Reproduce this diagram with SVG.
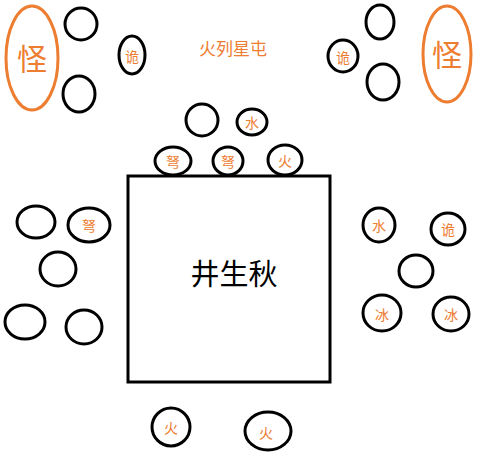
<svg xmlns="http://www.w3.org/2000/svg" width="500" height="462" viewBox="0 0 500 462">
<style>
.c{fill:#fff;stroke:#000;stroke-width:3}
.g{fill:#fff;stroke:#ED7D31;stroke-width:3}
.t{fill:#ED7D31;font-family:"Noto Sans CJK SC",sans-serif;font-size:14px;text-anchor:middle;dominant-baseline:central}
.big{font-size:30px}
.title{font-size:17px}
.m{fill:#000;font-family:"Noto Sans CJK SC",sans-serif;font-size:29px;text-anchor:middle;dominant-baseline:central}
</style>
<rect width="500" height="462" fill="#fff"/>
<g id="connectors"></g>
<g id="table"><rect x="128" y="176" width="202" height="206" fill="#fff" stroke="#000" stroke-width="3"/><text class="m" x="234" y="272">井生秋</text></g>
<g id="title"><text class="t title" x="233" y="47">火列星屯</text></g>
<g id="guai-left"><ellipse class="g" cx="32" cy="58" rx="26" ry="52"/><text class="t big" x="32" y="57">怪</text></g>
<g id="guai-right"><ellipse class="g" cx="447" cy="54" rx="24" ry="48"/><text class="t big" x="447" y="53">怪</text></g>
<g id="n1"><ellipse class="c" cx="81" cy="24" rx="16" ry="16"/></g>
<g id="n2"><ellipse class="c" cx="79" cy="94" rx="16" ry="18"/></g>
<g id="n3"><ellipse class="c" cx="132" cy="55" rx="13" ry="19"/><text class="t" x="132" y="56">诡</text></g>
<g id="n4"><ellipse class="c" cx="380" cy="22" rx="14" ry="17"/></g>
<g id="n5"><ellipse class="c" cx="343" cy="56" rx="15" ry="16"/><text class="t" x="343" y="57">诡</text></g>
<g id="n6"><ellipse class="c" cx="383" cy="82" rx="16" ry="18"/></g>
<g id="n7"><ellipse class="c" cx="202" cy="120" rx="16" ry="16"/></g>
<g id="n8"><ellipse class="c" cx="252" cy="122" rx="15" ry="13"/><text class="t" x="252" y="122">水</text></g>
<g id="n9"><ellipse class="c" cx="173" cy="161" rx="18" ry="14"/><text class="t" x="173" y="161">弩</text></g>
<g id="n10"><ellipse class="c" cx="228" cy="161" rx="15" ry="14"/><text class="t" x="228" y="161">弩</text></g>
<g id="n11"><ellipse class="c" cx="285" cy="160" rx="17" ry="15"/><text class="t" x="285" y="160">火</text></g>
<g id="n12"><ellipse class="c" cx="36" cy="222" rx="19" ry="16"/></g>
<g id="n13"><ellipse class="c" cx="89" cy="225" rx="21" ry="17"/><text class="t" x="89" y="225">弩</text></g>
<g id="n14"><ellipse class="c" cx="58" cy="269" rx="18" ry="17"/></g>
<g id="n15"><ellipse class="c" cx="25" cy="322" rx="20" ry="17"/></g>
<g id="n16"><ellipse class="c" cx="84" cy="327" rx="18" ry="17"/></g>
<g id="n17"><ellipse class="c" cx="379" cy="225" rx="16" ry="17"/><text class="t" x="379" y="225">水</text></g>
<g id="n18"><ellipse class="c" cx="448" cy="229" rx="17" ry="16"/><text class="t" x="448" y="229">诡</text></g>
<g id="n19"><ellipse class="c" cx="416" cy="271" rx="17" ry="16"/></g>
<g id="n20"><ellipse class="c" cx="382" cy="313" rx="19" ry="18"/><text class="t" x="382" y="314">冰</text></g>
<g id="n21"><ellipse class="c" cx="451" cy="314" rx="18" ry="17"/><text class="t" x="451" y="314">冰</text></g>
<g id="n22"><ellipse class="c" cx="171" cy="427" rx="19" ry="19"/><text class="t" x="171" y="427">火</text></g>
<g id="n23"><ellipse class="c" cx="268" cy="431" rx="23" ry="19"/><text class="t" x="266" y="432">火</text></g>
</svg>
